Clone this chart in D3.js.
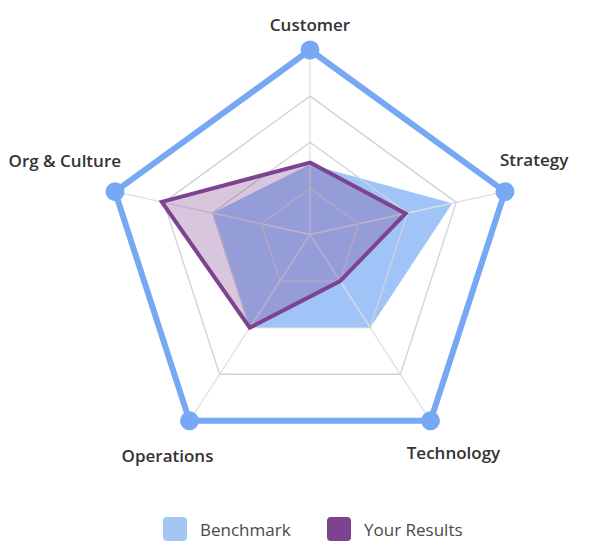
<!DOCTYPE html>
<html>
<head>
<meta charset="utf-8">
<script src="https://cdn.jsdelivr.net/npm/d3@7"></script>
<style>
  html, body { margin: 0; padding: 0; background: #ffffff; }
  svg { display: block; }
</style>
</head>
<body>
<svg id="chart" width="614" height="552"></svg>
<script>
// ---- data ----
const axes = ["Customer", "Strategy", "Technology", "Operations", "Org & Culture"];
const benchmark = [38, 73, 50, 50, 50];
const yourResults = [39, 49, 25, 50, 76];
const ringTicks = [25, 50, 75, 100];
const seriesNames = ["Benchmark", "Your Results"];

// ---- layout ----
const W = 614, H = 552;
const cx = 310, cy = 234.5, R = 205;
const vShift = 0.1; // radial lines converge slightly above centroid (as in reference)
const colors = {
  outer: "#76a8f3",
  benchFill: "rgba(117,169,245,0.69)",
  benchLegend: "#a3c6f5",
  purple: "#7e4390",
  purpleFill: "rgba(126,67,144,0.30)",
  ring: "#cfd2d9",
  spoke: "#e0e0e0",
  label: "#333333",
  legendText: "#4a4a4a"
};

const svg = d3.select("#chart");
const r = d3.scaleLinear().domain([0, 100]).range([0, R]);
const angle = d3.scaleLinear().domain([0, axes.length]).range([0, 2 * Math.PI]);

function pt(i, v) {
  const a = angle(i);
  return [cx + r(v) * Math.sin(a), cy + r(v) * (-Math.cos(a) + vShift)];
}
const line = d3.line().curve(d3.curveLinearClosed);
function poly(vals) { return line(vals.map((v, i) => pt(i, v))); }

const g = svg.append("g");

// benchmark fill (below grid)
g.append("path")
  .attr("d", poly(benchmark))
  .attr("fill", colors.benchFill)
  .attr("stroke", "none");

// spokes
g.selectAll("line.spoke").data(axes).join("line")
  .attr("class", "spoke")
  .attr("x1", (d, i) => pt(i, 0)[0]).attr("y1", (d, i) => pt(i, 0)[1])
  .attr("x2", (d, i) => pt(i, 100)[0]).attr("y2", (d, i) => pt(i, 100)[1])
  .attr("stroke", colors.spoke).attr("stroke-width", 1.3);

// rings
g.selectAll("path.ring").data(ringTicks.slice(0, -1)).join("path")
  .attr("class", "ring")
  .attr("d", t => poly(axes.map(() => t)))
  .attr("fill", "none")
  .attr("stroke", colors.ring).attr("stroke-width", 1.3);

// your results
g.append("path")
  .attr("d", poly(yourResults))
  .attr("fill", colors.purpleFill)
  .attr("stroke", colors.purple)
  .attr("stroke-width", 4)
  .attr("stroke-linejoin", "miter");

// outer ring (max)
const maxTick = ringTicks[ringTicks.length - 1];
g.append("path")
  .attr("d", poly(axes.map(() => maxTick)))
  .attr("fill", "none")
  .attr("stroke", colors.outer)
  .attr("stroke-width", 6)
  .attr("stroke-linejoin", "round");
g.selectAll("circle.vtx").data(axes).join("circle")
  .attr("class", "vtx")
  .attr("cx", (d, i) => pt(i, maxTick)[0])
  .attr("cy", (d, i) => pt(i, maxTick)[1])
  .attr("r", 9.5)
  .attr("fill", colors.outer);

// axis labels
const labelLayout = [
  { anchor: "middle", dx: 0, dy: -19 },
  { anchor: "start", dx: -5, dy: -26 },
  { anchor: "middle", dx: 23, dy: 38 },
  { anchor: "middle", dx: -22, dy: 41 },
  { anchor: "end", dx: 6, dy: -25 }
];
g.selectAll("text.axis").data(axes).join("text")
  .attr("class", "axis")
  .attr("x", (d, i) => pt(i, maxTick)[0] + labelLayout[i].dx)
  .attr("y", (d, i) => pt(i, maxTick)[1] + labelLayout[i].dy)
  .attr("text-anchor", (d, i) => labelLayout[i].anchor)
  .attr("font-family", "'Open Sans', sans-serif")
  .attr("font-weight", 600)
  .attr("font-size", 17)
  .attr("fill", colors.label)
  .text(d => d);

// legend
const legendItems = [
  { name: seriesNames[0], color: colors.benchLegend, x: 163 },
  { name: seriesNames[1], color: colors.purple, x: 327 }
];
const lg = svg.append("g");
const li = lg.selectAll("g").data(legendItems).join("g")
  .attr("transform", d => `translate(${d.x},517)`);
li.append("rect")
  .attr("width", 24).attr("height", 24).attr("rx", 4)
  .attr("fill", d => d.color);
li.append("text")
  .attr("x", 37).attr("y", 19)
  .attr("font-family", "'Open Sans', sans-serif")
  .attr("font-size", 17)
  .attr("fill", colors.legendText)
  .text(d => d.name);
</script>
</body>
</html>
